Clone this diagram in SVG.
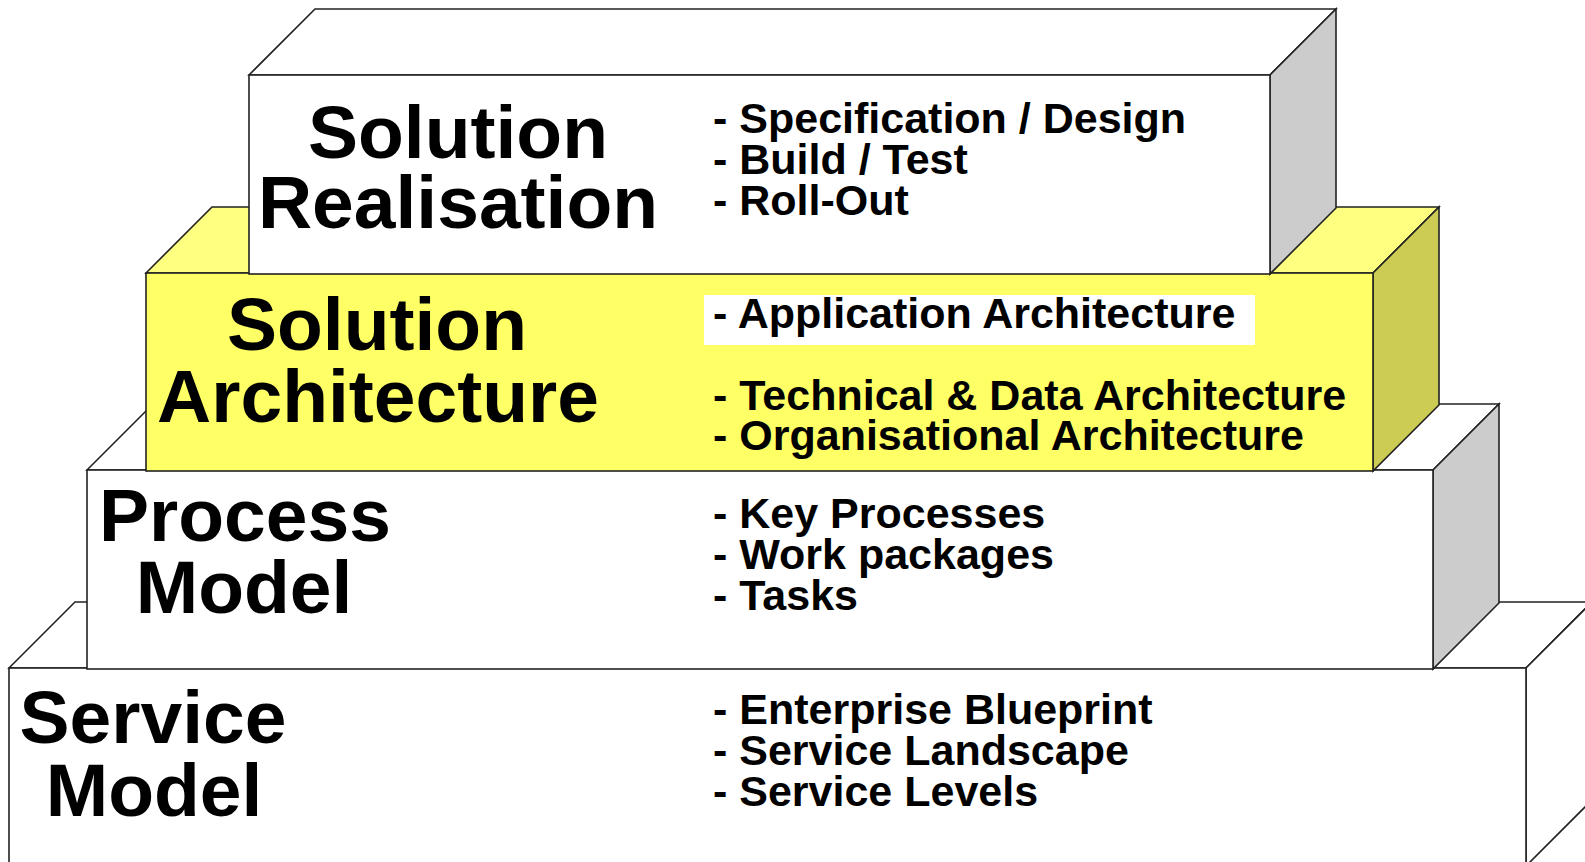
<svg xmlns="http://www.w3.org/2000/svg" width="1585" height="862" viewBox="0 0 1585 862">
  <style>
    .edge { stroke: #222; stroke-width: 1.6; stroke-linejoin: miter; }
    .white { fill: #ffffff; }
    .grey { fill: #cccccc; }
    .yfront { fill: #ffff66; }
    .ytop { fill: #ffff80; }
    .yside { fill: #cccc55; }
    .title { font-family: "Liberation Sans", Arial, sans-serif; font-weight: bold; font-size: 75px; fill: #000; text-anchor: middle; }
    .item { font-family: "Liberation Sans", Arial, sans-serif; font-weight: bold; font-size: 43px; fill: #000; }
  </style>

  <rect x="0" y="0" width="1585" height="862" fill="#ffffff"/>

  <!-- Bottom tier -->
  <g id="service-model">
    <polygon class="edge white" points="9,668 75,602 1592,602 1526,668"/>
    <polygon class="edge white" points="1526,668 1592,602 1592,800 1526,866"/>
    <rect class="edge white" x="9" y="668" width="1517" height="198"/>
    <text class="title"><tspan x="153" y="743">Service</tspan><tspan x="154" y="816">Model</tspan></text>
    <text class="item" x="713" y="724">- Enterprise Blueprint</text>
    <text class="item" x="713" y="765">- Service Landscape</text>
    <text class="item" x="713" y="806">- Service Levels</text>
  </g>

  <!-- Second tier -->
  <g id="process-model">
    <polygon class="edge white" points="87,470 153,404 1499,404 1433,470"/>
    <polygon class="edge grey" points="1433,470 1499,404 1499,603 1433,669"/>
    <rect class="edge white" x="87" y="470" width="1346" height="199"/>
    <text class="title"><tspan x="245" y="541">Process</tspan><tspan x="244" y="613">Model</tspan></text>
    <text class="item" x="713" y="528">- Key Processes</text>
    <text class="item" x="713" y="569">- Work packages</text>
    <text class="item" x="713" y="610">- Tasks</text>
  </g>

  <!-- Third tier -->
  <g id="solution-architecture">
    <polygon class="edge ytop" points="146,273 212,207 1439,207 1373,273"/>
    <polygon class="edge yside" points="1373,273 1439,207 1439,405 1373,471"/>
    <rect class="edge yfront" x="146" y="273" width="1227" height="198"/>
    <text class="title"><tspan x="377" y="350">Solution</tspan><tspan x="378" y="422">Architecture</tspan></text>
    <rect x="704" y="295" width="551" height="50" fill="#ffffff"/>
    <text class="item" x="713" y="328">- Application Architecture</text>
    <text class="item" x="713" y="410">- Technical &amp; Data Architecture</text>
    <text class="item" x="713" y="450">- Organisational Architecture</text>
  </g>

  <!-- Top tier -->
  <g id="solution-realisation">
    <polygon class="edge white" points="249,75 315,9 1336,9 1270,75"/>
    <polygon class="edge grey" points="1270,75 1336,9 1336,208 1270,274"/>
    <rect class="edge white" x="249" y="75" width="1021" height="199"/>
    <text class="title"><tspan x="458" y="158">Solution</tspan><tspan x="458" y="228">Realisation</tspan></text>
    <text class="item" x="713" y="133">- Specification / Design</text>
    <text class="item" x="713" y="174">- Build / Test</text>
    <text class="item" x="713" y="215">- Roll-Out</text>
  </g>

  <g id="connectors"></g>
</svg>
